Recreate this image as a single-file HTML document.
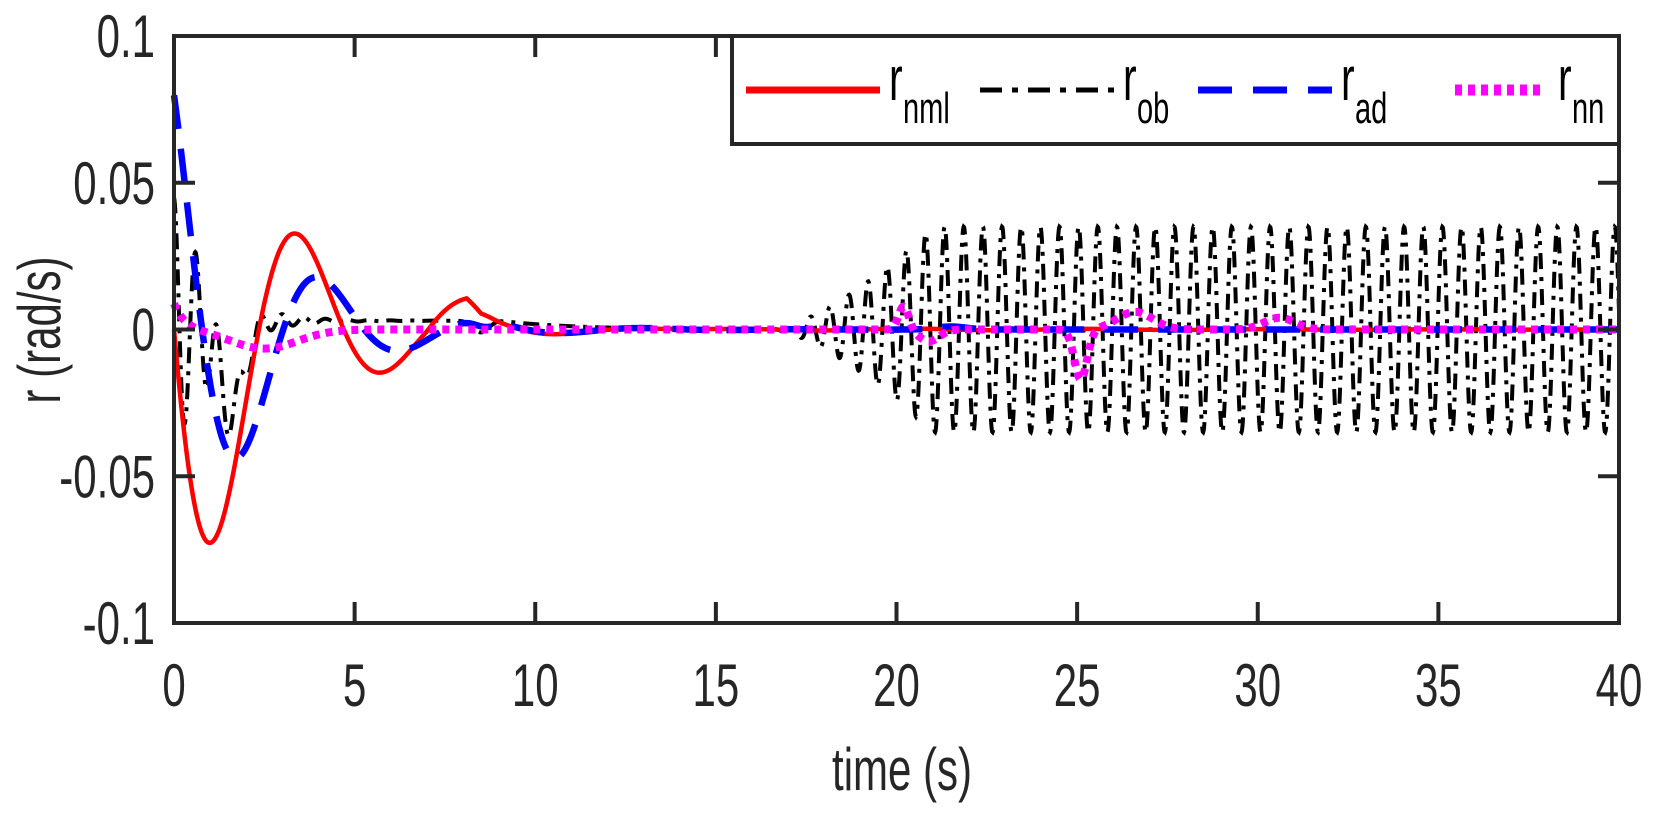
<!DOCTYPE html>
<html><head><meta charset="utf-8"><style>
html,body{margin:0;padding:0;background:#fff;}
svg{display:block;}
text{font-family:"Liberation Sans",Arial,sans-serif;fill:#262626;}
</style></head><body>
<svg id="s" width="1667" height="821" viewBox="0 0 1667 821" xmlns="http://www.w3.org/2000/svg">
<rect x="0" y="0" width="1667" height="821" fill="#fff"/>
<g id="series"></g>
<g id="axes" stroke="#262626" stroke-width="4" fill="none"></g>
<g id="labels"></g>
<rect x="732" y="36" width="887" height="108" fill="#fff" stroke="#262626" stroke-width="4"/>
<line x1="746" y1="90" x2="880" y2="90" stroke="#ff0000" stroke-width="7"/>
<line x1="980" y1="90" x2="1115" y2="90" stroke="#000" stroke-width="5" stroke-dasharray="22,10,6,10"/>
<line x1="1198" y1="90" x2="1332" y2="90" stroke="#0000ff" stroke-width="7" stroke-dasharray="34,21"/>
<line x1="1455" y1="90" x2="1543" y2="90" stroke="#ff00ff" stroke-width="11" stroke-dasharray="7,6"/>
<g transform="translate(889,100) scale(0.66,1)"><text x="0" y="0" font-size="62" style="fill:#000">r</text></g>
<g transform="translate(903,123) scale(0.66,1)"><text x="0" y="0" font-size="44" style="fill:#000">nml</text></g>
<g transform="translate(1123,100) scale(0.66,1)"><text x="0" y="0" font-size="62" style="fill:#000">r</text></g>
<g transform="translate(1137,123) scale(0.66,1)"><text x="0" y="0" font-size="44" style="fill:#000">ob</text></g>
<g transform="translate(1341,100) scale(0.66,1)"><text x="0" y="0" font-size="62" style="fill:#000">r</text></g>
<g transform="translate(1355,123) scale(0.66,1)"><text x="0" y="0" font-size="44" style="fill:#000">ad</text></g>
<g transform="translate(1558,100) scale(0.66,1)"><text x="0" y="0" font-size="62" style="fill:#000">r</text></g>
<g transform="translate(1572,123) scale(0.66,1)"><text x="0" y="0" font-size="44" style="fill:#000">nn</text></g>
</svg>
<script>
(function(){
var NS="http://www.w3.org/2000/svg";
var X=function(t){return 174+36.125*t;}, Y=function(v){return 329.5-2935*v;};
function path(f,dt,attrs){var d="";for(var t=0;t<=40.0001;t+=dt){d+=(d?"L":"M")+X(t).toFixed(2)+","+Y(f(t)).toFixed(2);}
 var p=document.createElementNS(NS,"path");p.setAttribute("d",d);p.setAttribute("fill","none");
 for(var k in attrs)p.setAttribute(k,attrs[k]);document.getElementById("series").appendChild(p);}
function g(t,c,w){return Math.exp(-Math.pow((t-c)/w,2));}
path(function(t){
 var v=0.003*(1-Math.exp(-2*t))*Math.exp(-Math.max(t-9,0)/2);
 v+=0.045*Math.exp(-t/1.0)*Math.cos(2*Math.PI*t/0.6);
 v+=-0.03*g(t,1.6,0.5);
 v+=-0.004*g(t,8.5,0.3);
 var a=Math.min(Math.max((t-16.5)/4.5,0),1);a=Math.pow(a,1.5);
 v+=0.035*a*Math.sin(2*Math.PI*t/0.53);
 return v;},0.01,{stroke:"#000","stroke-width":"4","stroke-dasharray":"16,8,4,8"});
path(function(t){var v=-0.105*Math.exp(-0.34*t)*Math.sin(2*Math.PI*t/4.7);
 if(t>7&&t<8.1)v+=0.004*(t-7)/1.1; else if(t>=8.1&&t<8.5)v+=0.004*(8.5-t)/0.4;
 return v+0.0015*Math.sin(2*Math.PI*(t-9)/5)*Math.exp(-Math.max(t-10,0)/8)*(t>9?1:0);},0.02,{stroke:"#ff0000","stroke-width":"4.5"});
path(function(t){return 0.09*Math.exp(-0.4*t)*Math.cos(1.4*t+0.48)-0.002*g(t,8.6,0.4)+0.001*g(t,21.5,0.6);},0.02,{stroke:"#0000ff","stroke-width":"6.5","stroke-dasharray":"34,20"});
path(function(t){return 0.009*Math.exp(-t/0.3)-0.0065*g(t,2.5,1.3)+0.008*g(t,20.2,0.2)-0.004*g(t,20.9,0.4)-0.017*g(t,25.1,0.25)+0.006*g(t,26.6,0.7)+0.004*g(t,30.6,0.6);},0.02,{stroke:"#ff00ff","stroke-width":"8","stroke-dasharray":"7,6"});
var ax=document.getElementById("axes");
function ln(x1,y1,x2,y2){var l=document.createElementNS(NS,"line");l.setAttribute("x1",x1);l.setAttribute("y1",y1);l.setAttribute("x2",x2);l.setAttribute("y2",y2);ax.appendChild(l);}
ln(174,36,1619,36);ln(174,623,1619,623);ln(174,34,174,625);ln(1619,34,1619,625);
var lab=document.getElementById("labels");
function txt(x,y,s,anchor,size,rot){var gg=document.createElementNS(NS,"g");
 gg.setAttribute("transform","translate("+x+","+y+")"+(rot?" rotate(-90)":"")+" scale(0.7,1)");
 var t=document.createElementNS(NS,"text");t.setAttribute("text-anchor",anchor);t.setAttribute("font-size",size);t.textContent=s;gg.appendChild(t);lab.appendChild(gg);}
for(var i=0;i<=8;i++){var x=X(5*i);if(i>0&&i<8){ln(x,623,x,602);ln(x,36,x,57);}
 txt(x,706,String(5*i),"middle",60);}
var yt=[0.1,0.05,0,-0.05,-0.1],ys=["0.1","0.05","0","-0.05","-0.1"];
for(var j=0;j<5;j++){var y=Y(yt[j]);if(j>0&&j<4){ln(174,y,195,y);ln(1619,y,1598,y);}
 txt(155,y+21,ys[j],"end",60);}
txt(902,790,"time (s)","middle",60);
txt(60,330,"r (rad/s)","middle",60,true);
})();
</script>
</body></html>
